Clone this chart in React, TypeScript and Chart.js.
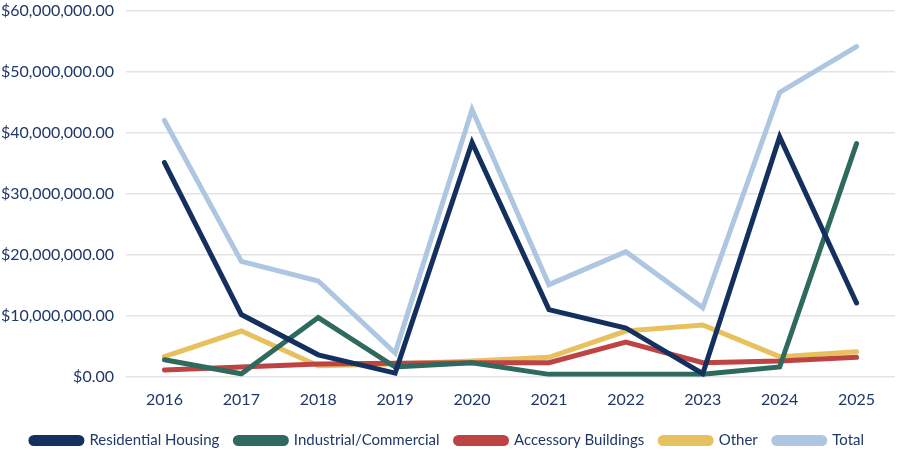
import React, { useRef, useEffect } from "react";
import Chart from "chart.js/auto";

const years = ["2016", "2017", "2018", "2019", "2020", "2021", "2022", "2023", "2024", "2025"];

const residential = [35.1, 10.2, 3.6, 0.6, 38.4, 11.0, 8.0, 0.5, 39.3, 12.1];
const industrial = [2.8, 0.5, 9.7, 1.6, 2.3, 0.4, 0.4, 0.4, 1.6, 38.2];
const accessory = [1.1, 1.6, 2.1, 2.2, 2.3, 2.3, 5.7, 2.3, 2.6, 3.2];
const other = [3.3, 7.5, 1.8, 2.1, 2.6, 3.2, 7.5, 8.5, 3.3, 4.1];
const total = [42.0, 18.9, 15.7, 3.9, 43.8, 15.1, 20.5, 11.3, 46.6, 54.1];

const M = 1000000;
const toDollars = (arr: number[]) => arr.map((v) => v * M);

const TICK_COLOR = "#1f3868";

const App = () => {
  const chartRef = useRef<HTMLCanvasElement>(null);

  useEffect(() => {
    document.body.style.margin = "0";
    if (!chartRef.current) return;
    const ctx = chartRef.current.getContext("2d");
    if (!ctx) return;

    const line = (label: string, data: number[], color: string) => ({
      label,
      data: toDollars(data),
      borderColor: color,
      backgroundColor: color,
      borderWidth: 5,
      pointRadius: 0,
      fill: false,
      tension: 0,
      borderCapStyle: "round" as const,
      borderJoinStyle: "miter" as const,
    });

    const chart = new Chart(ctx, {
      type: "line",
      data: {
        labels: years,
        datasets: [
          line("Residential Housing", residential, "#13305f"),
          line("Industrial/Commercial", industrial, "#2e6a5d"),
          line("Accessory Buildings", accessory, "#bd4442"),
          line("Other", other, "#e8c15f"),
          line("Total", total, "#adc6e1"),
        ],
      },
      options: {
        animation: false,
        responsive: false,
        layout: { padding: { top: 0, right: 3, left: 0, bottom: 2 } },
        scales: {
          x: {
            offset: true,
            grid: { display: false },
            border: { display: false },
            afterFit: (scale) => {
              scale.height += 3;
            },
            ticks: {
              color: TICK_COLOR,
              font: { family: "Lato", size: 16 },
              padding: 5,
            },
          },
          y: {
            min: 0,
            max: 60 * M,
            grid: { color: "#e3e3e3", lineWidth: 1.5, drawTicks: false },
            border: { display: false },
            afterFit: (scale) => {
              scale.width = 126;
            },
            ticks: {
              stepSize: 10 * M,
              color: TICK_COLOR,
              padding: 12,
              font: { family: "Lato", size: 16 },
              callback: (v) =>
                "$" +
                Number(v).toLocaleString("en-US", {
                  minimumFractionDigits: 2,
                  maximumFractionDigits: 2,
                }),
            },
          },
        },
        plugins: {
          tooltip: { enabled: false },
          legend: {
            position: "bottom",
            align: "center",
            labels: {
              boxWidth: 51,
              boxHeight: 6,
              useBorderRadius: true,
              borderRadius: 3,
              padding: 16,
              color: TICK_COLOR,
              font: { family: "Lato", size: 15 },
            },
          },
        },
      },
    });

    return () => {
      chart.destroy();
    };
  }, []);

  return (
    <div
      style={{
        position: "absolute",
        left: 0,
        top: 0,
        width: 898,
        height: 450,
        overflow: "hidden",
      }}
    >
      <canvas
        ref={chartRef}
        width={898}
        height={471}
        style={{ position: "absolute", left: 0, top: -11 }}
      ></canvas>
    </div>
  );
};

export default App;
